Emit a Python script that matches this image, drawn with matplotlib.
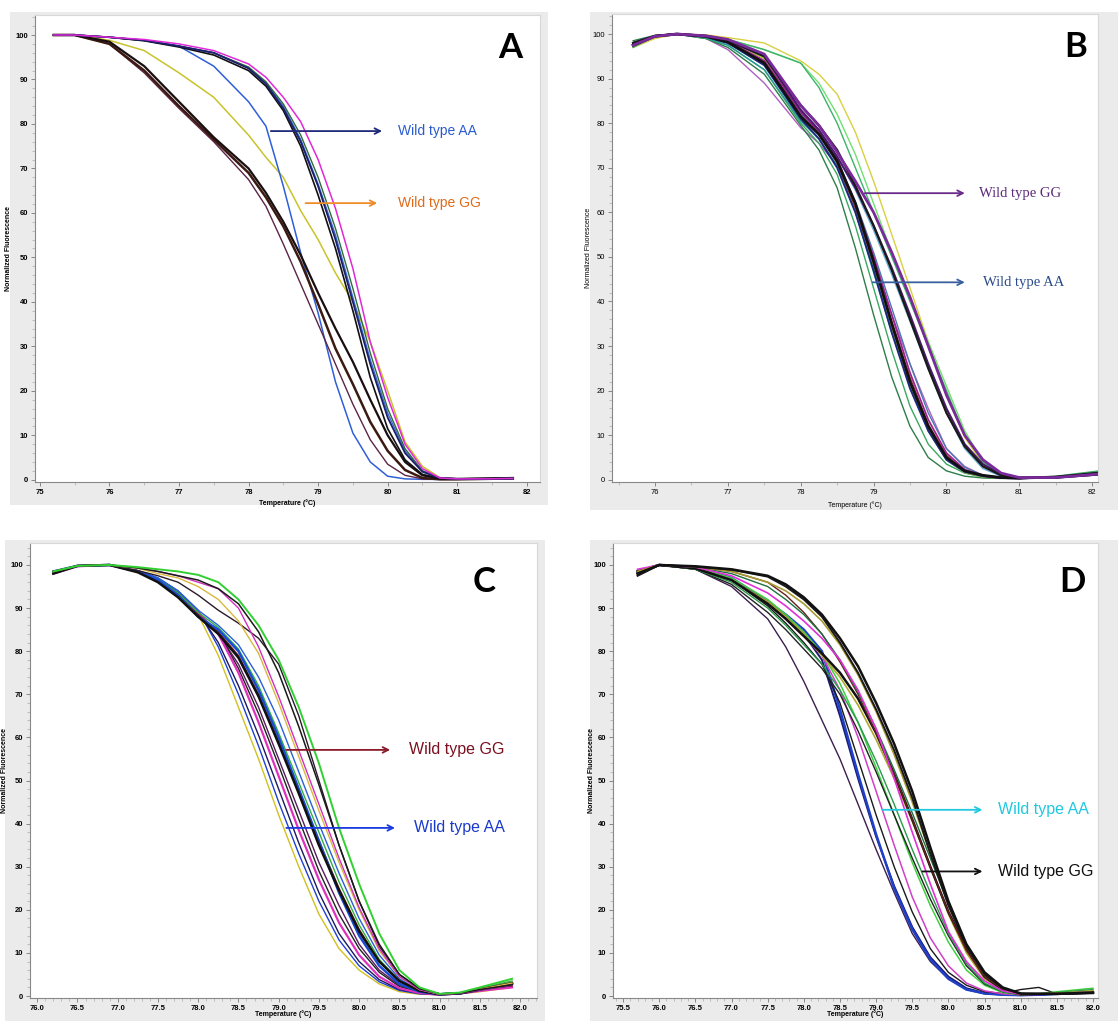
import matplotlib
matplotlib.use('Agg')
import matplotlib.pyplot as plt
from matplotlib.patches import Rectangle
from matplotlib.ticker import MultipleLocator

# ---- panel A : melt curves (normalized fluorescence vs temperature) ----
temp_a = [75.2, 75.5, 76.0, 76.5, 77.0, 77.5, 78.0, 78.25, 78.5, 78.75, 79.0,
          79.25, 79.5, 79.75, 80.0, 80.25, 80.5, 80.75, 81.0, 81.4, 81.8]
a_magenta = [100, 100, 99.5, 99, 98, 96.5, 93.5, 90.5, 86, 80.5, 72, 61, 47.5, 31, 18.5, 8, 2.5, 0.4, 0.2, 0.2, 0.3]
a_navy = [100, 100, 99.5, 98.8, 97.5, 96, 92.5, 89, 83.5, 76, 66, 54, 40, 26, 14, 6, 1.8, 0.4, 0.2, 0.2, 0.3]
a_green = [100, 100, 99.5, 98.8, 97.5, 96, 92.8, 89.5, 84.5, 77.5, 68, 56.5, 43, 28.5, 16, 7, 2, 0.4, 0.2, 0.2, 0.3]
a_black = [100, 100, 99.5, 98.7, 97.3, 95.5, 92, 88.5, 83, 75, 64, 52, 38, 23, 11.5, 4.5, 1.2, 0.3, 0.2, 0.2, 0.3]
a_blue_mid = [100, 100, 99.5, 98.8, 97.5, 96, 92.6, 89.2, 84, 76.5, 66.5, 55, 41, 27, 15, 6.5, 2, 0.4, 0.2, 0.2, 0.3]
a_blue = [100, 100, 99.5, 98.8, 97.5, 93, 85, 79.5, 66, 51, 37.5, 22, 10.5, 4, 0.8, 0.2, 0.1, 0.1, 0.1, 0.2, 0.3]
a_yellow = [100, 100, 98.8, 96.5, 91.5, 86, 77.5, 72.5, 68, 60.5, 54, 46.5, 40, 31, 20, 8.5, 3, 0.5, 0.2, 0.2, 0.3]
a_brown = [100, 100, 98, 92, 84, 76.5, 69, 63.5, 57, 49, 39.5, 29.5, 21.5, 13, 6.5, 2.2, 0.4, 0.1, 0.1, 0.2, 0.3]
a_plum = [100, 100, 98, 91.5, 83.5, 76, 67.5, 61.5, 53, 44, 35, 26, 17, 9, 3.5, 1, 0.2, 0.1, 0.1, 0.2, 0.3]
a_dark = [100, 100, 98.5, 93, 85, 77, 70, 64.5, 58, 50.5, 42, 34, 26.5, 18, 10, 4, 1, 0.3, 0.2, 0.3, 0.4]

# ---- panel B ----
temp_b = [75.7, 76.0, 76.3, 76.7, 77.0, 77.5, 78.0, 78.25, 78.5, 78.75, 79.0,
          79.25, 79.5, 79.75, 80.0, 80.25, 80.5, 80.75, 81.0, 81.5, 82.1]
b_black = [97.5, 99.5, 100, 99.5, 98.2, 93.5, 81.5, 77.5, 71.5, 62, 49, 35, 22, 12, 5, 2, 1, 0.5, 0.4, 0.6, 1.5]
b_navy = [98, 99.6, 100, 99.4, 98, 93, 81, 76.5, 70, 60, 47, 33, 20.5, 11, 4.5, 1.8, 0.8, 0.4, 0.3, 0.6, 1.4]
b_dkgreen = [98.5, 99.7, 100, 99, 97, 91, 79.5, 74, 65.5, 52, 37, 23, 12, 5, 2, 0.8, 0.4, 0.3, 0.3, 0.7, 1.8]
b_green = [97, 99.5, 100, 99, 97.5, 92, 80, 75.5, 68.5, 57, 43, 29, 16.5, 8, 3.5, 1.5, 0.6, 0.4, 0.3, 0.8, 2.0]
b_purple = [97.5, 99.5, 100, 99.6, 98.8, 95.5, 84, 79.5, 73.5, 67, 60, 51, 41, 30, 19, 10, 4.5, 1.5, 0.5, 0.5, 1.3]
b_dkpurple = [98, 99.6, 100, 99.5, 98.5, 95, 83, 78.5, 72.5, 65.5, 57, 47.5, 37, 26, 16, 8, 3.5, 1.2, 0.4, 0.5, 1.2]
b_yellow = [97, 99, 100, 99.8, 99.2, 98, 94, 91, 86.5, 78, 67, 55, 43, 31, 19, 9.5, 3.5, 1, 0.4, 0.5, 1.4]
b_ltgreen = [98, 99.5, 100, 99.5, 98.8, 96.5, 93.5, 89, 82, 73, 62, 51, 41, 31, 21, 11, 4, 1.2, 0.5, 0.6, 1.6]
b_sky = [97.5, 99.5, 100, 99.4, 98.2, 94, 82.5, 78.5, 72.5, 65, 56, 46, 35.5, 25, 15, 7, 2.5, 0.8, 0.4, 0.6, 1.3]
b_lavender = [98, 99.5, 100, 99, 96.5, 89, 79, 75.5, 70.5, 62, 50, 37, 26, 16, 7, 3, 1, 0.4, 0.3, 0.6, 1.5]
b_teal = [98, 99.6, 100, 99.2, 97.5, 92, 80.5, 76.5, 70.5, 60, 46.5, 33, 21, 11, 4.5, 1.6, 0.7, 0.4, 0.3, 0.6, 1.4]
b_olive = [97.5, 99.5, 100, 99.5, 98.5, 94.5, 83, 78.5, 71.5, 61, 48, 34, 21, 11, 4.5, 1.6, 0.6, 0.4, 0.3, 0.6, 1.5]
b_brown = [98, 99.6, 100, 99.5, 98.4, 94, 82, 77.5, 71, 61, 48.5, 35.5, 23, 12.5, 5.5, 2, 0.8, 0.4, 0.3, 0.6, 1.3]
b_magenta = [97.5, 99.5, 100, 99.5, 98.3, 94, 82.5, 78, 72, 62, 50, 37, 24, 13.5, 6, 2.3, 0.9, 0.4, 0.3, 0.6, 1.4]
b_black2 = [98, 99.5, 100, 99.6, 98.7, 95, 84, 79.5, 74, 66, 57, 47, 36, 25, 15, 7.5, 3, 1, 0.4, 0.5, 1.2]
b_mdgreen = [98, 99.5, 100, 99.6, 98.8, 96.5, 93.5, 88, 80, 70, 60, 50, 40, 30, 20, 10, 4, 1.3, 0.5, 0.6, 1.6]
b_steel = [98, 99.6, 100, 99.3, 98, 93.5, 82, 77.5, 71.5, 62.5, 51, 38.5, 26, 15, 7, 2.8, 1, 0.5, 0.3, 0.6, 1.3]

# ---- panel C ----
temp_c = [76.2, 76.5, 76.9, 77.25, 77.5, 77.75, 78.0, 78.25, 78.5, 78.75, 79.0,
          79.25, 79.5, 79.75, 80.0, 80.25, 80.5, 80.75, 81.0, 81.25, 81.5, 81.9]
c_yellow = [98.5, 99.8, 100, 98.5, 96.5, 93, 88.5, 79, 67, 55, 42, 30, 19, 11, 6, 2.8, 1, 0.4, 0.3, 0.5, 1, 2]
c_blue = [98, 99.8, 100, 98.7, 97, 94, 89.5, 81, 70, 58, 45, 33, 22, 13, 7, 3.3, 1.3, 0.5, 0.3, 0.6, 1.2, 2.5]
c_navy = [98.5, 99.8, 100, 98.6, 96.8, 93.5, 89, 82, 72, 60.5, 48, 35.5, 24, 14.5, 8, 3.8, 1.5, 0.6, 0.3, 0.6, 1.3, 2.3]
c_magenta = [98, 99.7, 100, 98.5, 96.5, 93, 89, 84, 75, 63.5, 51, 38.5, 27, 17, 9.5, 4.5, 1.8, 0.7, 0.3, 0.6, 1.2, 2.0]
c_black = [98.5, 99.8, 100, 98.4, 96.5, 93, 88.5, 84.5, 76, 65.5, 53.5, 41, 29, 19, 11, 5.5, 2.2, 0.8, 0.3, 0.6, 1.4, 2.6]
c_purple = [98, 99.8, 100, 98.6, 96.8, 93.5, 89, 84, 77, 67, 55, 43, 31, 21, 12, 6, 2.5, 0.9, 0.3, 0.6, 1.3, 2.2]
c_blue_thick = [98.5, 99.8, 100, 98.5, 96.5, 93, 88, 85, 80, 71, 60, 48, 36, 24, 14, 7, 2.8, 1, 0.4, 0.6, 1.5, 2.8]
c_black_thick = [98, 99.8, 100, 98.3, 96, 92.5, 88, 84, 78.5, 69.5, 58.5, 47, 35, 24.5, 15, 8, 3.5, 1.2, 0.4, 0.6, 1.5, 3]
c_darkred = [98.5, 99.8, 100, 98.5, 96.5, 93, 88.5, 84.5, 79, 70, 59, 47.5, 36, 25, 15.5, 8, 3.3, 1.1, 0.4, 0.6, 1.4, 2.4]
c_green = [98.5, 99.8, 100, 98.6, 96.8, 93.5, 89, 85.5, 80.5, 72, 61, 49.5, 38, 26.5, 16.5, 8.5, 3.5, 1.2, 0.4, 0.7, 1.8, 3.5]
c_blue2 = [98, 99.8, 100, 98.7, 97, 94, 89.5, 86, 81.5, 74, 64, 52, 40, 28.5, 18, 9.5, 4, 1.3, 0.4, 0.7, 1.6, 2.8]
c_black_kink = [98.5, 99.8, 100, 98.7, 97.5, 96, 93, 89.5, 86.5, 83, 77, 65, 50, 35, 22, 11.5, 5, 1.8, 0.5, 0.7, 1.5, 2.5]
c_gold = [98.5, 99.8, 100, 99.2, 98, 97, 95, 92, 87, 79.5, 68, 55.5, 43, 31, 20, 10.5, 4.5, 1.5, 0.4, 0.7, 1.6, 3]
c_magenta2 = [98.5, 99.8, 100, 99.4, 98.5, 97.5, 96, 94.5, 90, 81, 69.5, 57, 44.5, 32, 20.5, 11, 4.5, 1.5, 0.4, 0.6, 1.4, 2.5]
c_black_right = [98.5, 99.8, 100, 99.3, 98.5, 97.5, 96.5, 94.5, 91, 84.5, 75, 62.5, 49, 35, 22, 12, 5, 1.7, 0.5, 0.7, 1.5, 2.6]
c_green_right = [98.5, 99.8, 100, 99.5, 99, 98.5, 97.7, 96, 92, 86, 78, 67, 54, 39, 26, 14.5, 6, 2, 0.5, 0.8, 2, 4]

# ---- panel D ----
temp_d = [75.7, 76.0, 76.5, 77.0, 77.5, 77.75, 78.0, 78.25, 78.5, 78.75, 79.0,
          79.25, 79.5, 79.75, 80.0, 80.25, 80.5, 80.75, 81.0, 81.25, 81.5, 82.0]
d_black_r1 = [98, 100, 99.7, 99, 97.5, 95.5, 92.5, 88.5, 83, 76.5, 68, 58.5, 47.5, 34.5, 22, 12, 5.5, 2, 0.6, 0.5, 0.5, 0.8]
d_black_r2 = [97.5, 100, 99.6, 98.9, 97.3, 95, 92, 88, 82, 75, 66.5, 57, 46, 33, 21, 11.5, 5, 1.8, 0.5, 0.5, 0.5, 0.8]
d_olive_r = [98.5, 100, 99.6, 98.5, 96, 94, 91, 87, 81.5, 74.5, 66, 56, 45, 33, 21.5, 11.5, 5, 1.8, 0.5, 0.5, 0.6, 1.0]
d_magenta = [99, 100, 99.5, 97.5, 93.5, 90.5, 87, 83, 78, 71, 62, 50.5, 38, 26, 15, 8, 3.5, 1.2, 0.4, 0.4, 0.5, 1.0]
d_brown = [98, 100, 99.6, 98.5, 96, 93, 89, 84, 77.5, 70, 61, 51.5, 41, 30, 19.5, 10.5, 4.5, 1.6, 0.5, 0.5, 0.6, 1.0]
d_dkgreen = [98, 100, 99.5, 98, 95, 92, 88.5, 84, 78, 70.5, 62, 52.5, 42.5, 32, 21.5, 12, 5.3, 1.9, 0.5, 0.5, 0.6, 1.0]
d_black_l = [98.5, 100, 99.2, 96.5, 91, 87.5, 83.5, 79.5, 75, 69, 61, 51.5, 41, 30, 19.5, 11, 4.5, 1.5, 0.4, 0.5, 0.5, 0.7]
d_olive_l = [98, 100, 99.2, 96.5, 91.5, 88, 84, 79, 74, 67.5, 59.5, 50.5, 40.5, 30, 19, 10, 4, 1.3, 0.4, 0.5, 0.6, 1.2]
d_green_l = [98.5, 100, 99, 96, 90, 86, 81.5, 77, 71, 63.5, 54.5, 44.5, 34, 24, 14.5, 7.5, 3, 1, 0.3, 0.5, 0.8, 1.5]
d_black_thin = [98, 100, 99, 95.5, 89, 85, 80.5, 76, 70, 61.5, 52, 42, 32, 22.5, 14, 7, 2.8, 1, 0.3, 0.4, 0.6, 0.9]
d_ltgreen = [98.5, 100, 99.4, 97, 92, 88.5, 84.5, 79.5, 72.5, 63.5, 53, 42, 31, 21, 12.5, 6, 2.5, 0.8, 0.3, 0.5, 1, 1.8]
d_pink = [98.5, 100, 99.3, 96.8, 91, 87.5, 83.5, 79, 71, 60, 47.5, 35, 23, 13.5, 7, 3, 1.2, 0.5, 0.3, 0.4, 0.6, 1.0]
d_black_wig = [98, 100, 99.2, 96.5, 90.5, 86.5, 82, 77, 68, 55, 42, 30, 19.5, 11, 5.5, 2.5, 1, 0.6, 1.5, 2, 0.5, 0.8]
d_blue = [98.5, 100, 99.4, 97, 91.5, 88.5, 85, 80, 66.5, 51.5, 37.5, 25, 15.5, 8.5, 4, 1.5, 0.6, 0.3, 0.2, 0.3, 0.5, 0.8]
d_navy = [98, 100, 99.3, 96.8, 91, 88, 84, 78, 65, 50.5, 37, 25.5, 16, 9, 4.5, 1.8, 0.7, 0.3, 0.2, 0.3, 0.5, 0.8]
d_purple = [97.5, 100, 99, 95, 87.5, 81, 73, 64, 55, 44.5, 34, 24, 14.5, 8, 4, 1.5, 0.5, 0.3, 0.2, 0.3, 0.5, 0.7]

W, H = 1118, 1021
fig = plt.figure(figsize=(W / 100, H / 100), dpi=100)
fig.patch.set_facecolor('white')

SANS = ['Liberation Sans', 'DejaVu Sans']
SERIF = ['Liberation Serif', 'DejaVu Serif']
LETTER = ['Lato', 'DejaVu Sans']


def fr(l, t, r, b):
    return (l / W, 1 - b / H, (r - l) / W, (b - t) / H)


def panel(frame, box, xlim, ylim, xmaj, xmin, ylab_x, xlab_y, bold=True):
    # grey surround like the instrument software export
    fig.add_artist(Rectangle((frame[0], frame[1]), frame[2], frame[3],
                             transform=fig.transFigure, facecolor='#ebebeb',
                             edgecolor='none', zorder=0))
    ax = fig.add_axes(fr(*box))
    ax.set_xlim(*xlim)
    ax.set_ylim(*ylim)
    ax.xaxis.set_major_locator(MultipleLocator(xmaj))
    ax.xaxis.set_minor_locator(MultipleLocator(xmin))
    ax.yaxis.set_major_locator(MultipleLocator(10))
    ax.yaxis.set_minor_locator(MultipleLocator(2))
    ax.set_ylim(*ylim)
    for s in ['top', 'right']:
        ax.spines[s].set_color('#d8d8d8')
    for s in ['left', 'bottom']:
        ax.spines[s].set_color('#888888')
        ax.spines[s].set_linewidth(0.8)
    ax.tick_params(which='major', length=3, width=0.6, color='#777777',
                   labelsize=5.5, pad=2)
    ax.tick_params(which='minor', length=2, width=0.4, color='#999999')
    wt = 'bold' if bold else 'normal'
    for lab in ax.get_xticklabels() + ax.get_yticklabels():
        lab.set_family(SANS)
        lab.set_fontweight(wt)
    ax.set_ylabel('Normalized Fluorescence', fontsize=5, family=SANS, fontweight=wt)
    ax.set_xlabel('Temperature (°C)', fontsize=5, family=SANS, fontweight=wt)
    ax.yaxis.set_label_coords(ylab_x, 0.5)
    ax.xaxis.set_label_coords(0.5, xlab_y)
    return ax


def label_arrow(ax, x0, x1, y, text, acol, tcol, tx, fs, family):
    ax.annotate('', xy=(x1, y), xytext=(x0, y),
                arrowprops=dict(arrowstyle='->', color=acol, lw=1.3,
                                mutation_scale=10))
    ax.text(tx, y, text, color=tcol, fontsize=fs, family=family,
            va='center', ha='left')


# ---------------- A ----------------
axA = panel(fr(10, 12, 548, 505), (35, 15, 540, 482), (74.93, 82.19), (-0.5, 104.5),
            1, 0.5, -0.046, -0.036)
for ys, c, lw in [(a_yellow, '#c9c32a', 1.1), (a_blue, '#2f5fd8', 1.1),
                  (a_plum, '#5b2447', 1.0), (a_brown, '#3b1a12', 1.8),
                  (a_dark, '#1a0f10', 1.6), (a_blue_mid, '#3a6ad8', 1.0),
                  (a_green, '#2e6b3a', 1.0), (a_black, '#111111', 1.2),
                  (a_navy, '#1c1f70', 1.3), (a_magenta, '#e02ad8', 1.1)]:
    axA.plot(temp_a, ys, color=c, lw=lw)
label_arrow(axA, 78.28, 79.96, 78.4, 'Wild type AA', '#1e2a78', '#2a5bd0', 80.15, 10, SANS)
label_arrow(axA, 78.78, 79.89, 62.2, 'Wild type GG', '#f08c28', '#e06a1a', 80.15, 10, SANS)
axA.text(81.76, 97, 'A', fontsize=25, fontweight='bold', family=LETTER,
         ha='center', va='center')

# ---------------- B ----------------
axB = panel(fr(590, 12, 1118, 510), (612, 14, 1098, 482), (75.41, 82.08), (-0.5, 104.5),
            1, 0.5, -0.041, -0.042, bold=False)
for ys, c, lw in [(b_yellow, '#d8d040', 1.0), (b_ltgreen, '#70e070', 1.0),
                  (b_mdgreen, '#3cb36a', 1.0), (b_sky, '#6aaed8', 1.0),
                  (b_lavender, '#b060c0', 1.0), (b_dkgreen, '#2e7d4a', 1.0),
                  (b_green, '#3aa860', 1.0), (b_teal, '#2a9a98', 1.0),
                  (b_olive, '#9ac030', 1.0), (b_brown, '#8b3a3a', 1.0),
                  (b_steel, '#4a78b0', 1.0), (b_magenta, '#a0208f', 1.3),
                  (b_navy, '#1c2a80', 1.4), (b_dkpurple, '#4a1a6a', 1.5),
                  (b_black2, '#1a1a1a', 1.6), (b_black, '#111111', 2.0),
                  (b_purple, '#7a2a9a', 2.0)]:
    axB.plot(temp_b, ys, color=c, lw=lw)
label_arrow(axB, 78.84, 80.29, 64.3, 'Wild type GG', '#6a2a8a', '#5a2a78', 80.45, 10.5, SERIF)
label_arrow(axB, 78.95, 80.29, 44.3, 'Wild type AA', '#3a5fa0', '#2a4a8a', 80.5, 10.5, SERIF)
axB.text(81.77, 97, 'B', fontsize=25, fontweight='bold', family=LETTER,
         ha='center', va='center')

# ---------------- C ----------------
axC = panel(fr(5, 540, 545, 1021), (30, 543, 537, 998), (75.91, 82.21), (-0.46, 105.1),
            0.5, 0.1, -0.043, -0.027)
for ys, c, lw in [(c_yellow, '#d0c020', 1.0), (c_blue, '#2040d0', 1.0),
                  (c_navy, '#1a1a60', 1.0), (c_purple, '#5a1a60', 1.0),
                  (c_black, '#222222', 1.0), (c_magenta, '#e030c0', 1.6),
                  (c_darkred, '#7a1a1a', 1.0), (c_green, '#30b040', 1.0),
                  (c_blue2, '#2a60d8', 1.0), (c_blue_thick, '#1a4ad0', 1.8),
                  (c_black_thick, '#111111', 1.8), (c_black_kink, '#2a1a2a', 1.0),
                  (c_gold, '#d8b840', 1.0), (c_magenta2, '#d030c0', 1.0),
                  (c_black_right, '#1a1a1a', 1.1), (c_green_right, '#30d030', 1.4)]:
    axC.plot(temp_c, ys, color=c, lw=lw)
label_arrow(axC, 79.06, 80.42, 57.1, 'Wild type GG', '#8a1a2a', '#7a1020', 80.62, 11.5, SANS)
label_arrow(axC, 79.06, 80.48, 39.0, 'Wild type AA', '#1a3adf', '#1a3acc', 80.68, 11.5, SANS)
axC.text(81.55, 96, 'C', fontsize=25, fontweight='bold', family=LETTER,
         ha='center', va='center')

# ---------------- D ----------------
axD = panel(fr(590, 540, 1118, 1021), (613, 543, 1098, 998), (75.36, 82.07), (-0.46, 105.1),
            0.5, 0.1, -0.037, -0.027)
for ys, c, lw in [(d_purple, '#3b1f4f', 1.0), (d_navy, '#1a1a70', 1.4),
                  (d_blue, '#2040c8', 1.8), (d_black_wig, '#1a1a1a', 1.0),
                  (d_pink, '#d040c8', 1.1), (d_ltgreen, '#40d040', 1.1),
                  (d_black_thin, '#222222', 1.0), (d_green_l, '#2a9a4a', 1.0),
                  (d_olive_l, '#b0a830', 1.2), (d_black_l, '#111111', 1.8),
                  (d_brown, '#6a2020', 1.0), (d_dkgreen, '#1f6f3f', 1.0),
                  (d_magenta, '#e030d8', 1.2), (d_olive_r, '#a89a30', 1.2),
                  (d_black_r2, '#1a1a1a', 1.4), (d_black_r1, '#111111', 1.8)]:
    axD.plot(temp_d, ys, color=c, lw=lw)
label_arrow(axD, 79.05, 80.51, 43.2, 'Wild type AA', '#20c8e0', '#20c8e0', 80.68, 11.5, SANS)
label_arrow(axD, 79.6, 80.51, 28.9, 'Wild type GG', '#111111', '#111111', 80.68, 11.5, SANS)
axD.text(81.72, 96, 'D', fontsize=25, fontweight='bold', family=LETTER,
         ha='center', va='center')

fig.savefig('out.png', dpi=100)
